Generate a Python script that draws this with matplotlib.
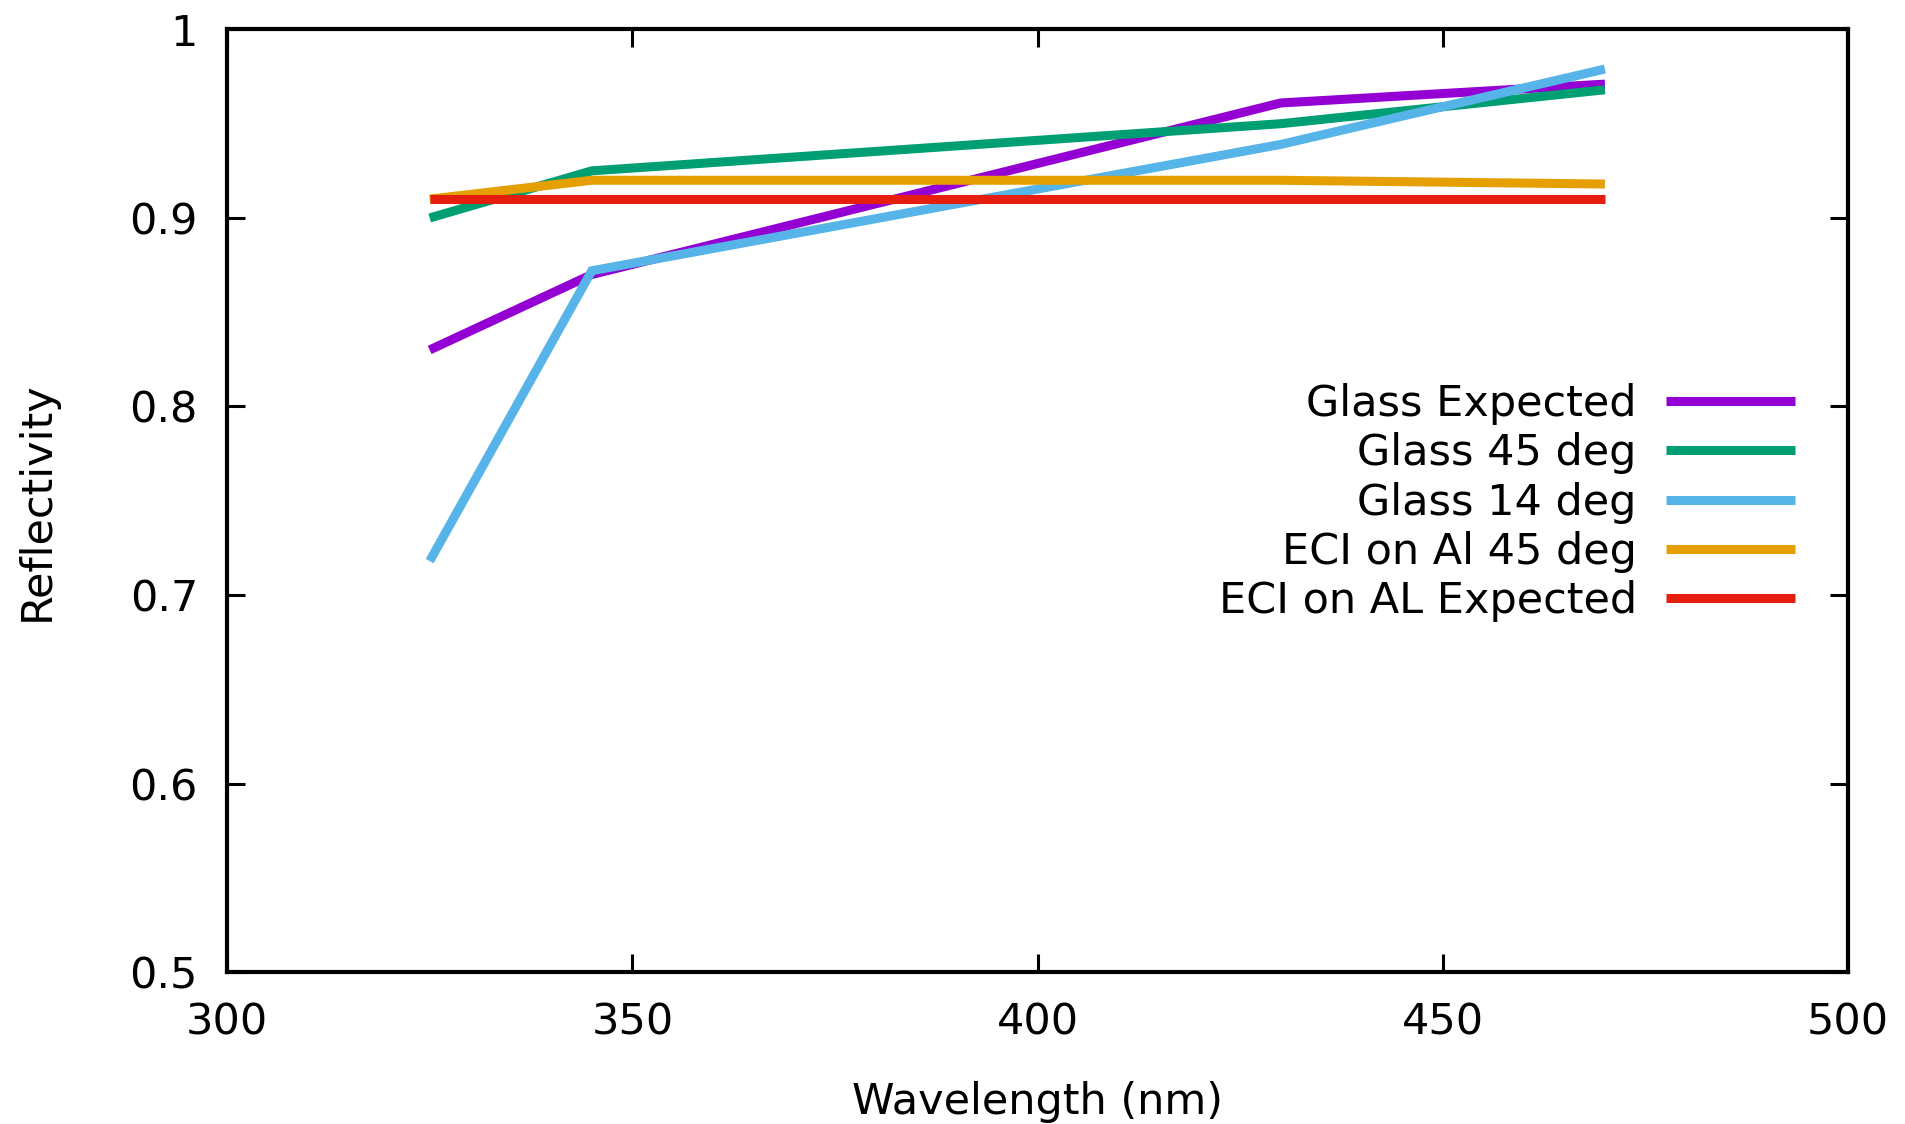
import matplotlib
matplotlib.use("Agg")
import matplotlib.pyplot as plt

# wavelengths (nm) and measured / expected reflectivity
wavelength = [325, 345, 430, 470]
glass_expected = [0.83, 0.870, 0.961, 0.971]
glass_45 = [0.90, 0.925, 0.950, 0.968]
glass_14 = [0.718, 0.872, 0.939, 0.979]
eci_al_45 = [0.91, 0.920, 0.920, 0.918]
eci_al_expected = [0.91, 0.910, 0.910, 0.910]

labels = ["Glass Expected", "Glass 45 deg", "Glass 14 deg",
          "ECI on Al 45 deg", "ECI on AL Expected"]
colors = ["#9400d3", "#009e73", "#56b4e9", "#e69f00", "#e51e10"]

plt.rcParams['font.family'] = ['DejaVu Sans']
fs = 31

fig = plt.figure(figsize=(19.05, 11.24), dpi=100)
ax = fig.add_axes([0.1192, 0.1352, 0.8509, 0.8386])

series = [glass_expected, glass_45, glass_14, eci_al_45, eci_al_expected]
for vals, lab, col in zip(series, labels, colors):
    ax.plot(wavelength, vals, color=col, lw=6.5, label=lab,
            solid_joinstyle='miter', solid_capstyle='butt')

ax.set_xlim(300, 500)
ax.set_ylim(0.5, 1.0)
ax.set_xticks([300, 350, 400, 450, 500])
ax.set_yticks([0.5, 0.6, 0.7, 0.8, 0.9, 1.0])
ax.set_yticklabels(["0.5", "0.6", "0.7", "0.8", "0.9", "1"])
ax.tick_params(direction='in', length=13, width=2.2, labelsize=fs,
               top=True, right=True, pad=21)
for sp in ax.spines.values():
    sp.set_linewidth(3)

ax.set_xlabel("Wavelength (nm)", fontsize=fs, labelpad=27)
ax.set_ylabel("Reflectivity", fontsize=fs, labelpad=52)

leg = ax.legend(loc='upper right', bbox_to_anchor=(0.978, 0.643),
                frameon=False, markerfirst=False, fontsize=fs,
                handlelength=3.0, handletextpad=0.68, labelspacing=0.17,
                borderaxespad=0)
for t in leg.get_texts():
    t.set_ha('right')

fig.savefig("out.png", dpi=100)
